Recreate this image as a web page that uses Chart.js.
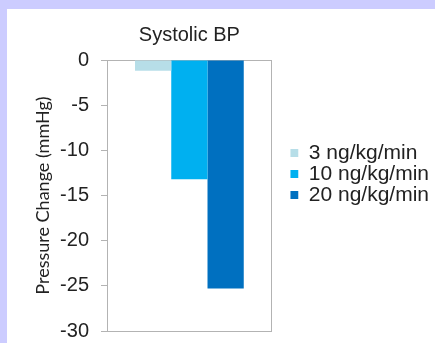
<!DOCTYPE html>
<html>
<head>
<meta charset="utf-8">
<script src="https://cdn.jsdelivr.net/npm/chart.js@4/dist/chart.umd.min.js"></script>
<style>
  html, body { margin: 0; padding: 0; background: #ccccff; width: 435px; height: 343px; overflow: hidden; }
  #wrap { position: absolute; left: 7px; top: 9px; width: 428px; height: 334px; background: #ffffff; }
  canvas { display: block; }
</style>
</head>
<body>
<div id="wrap"><canvas id="c" width="428" height="334"></canvas></div>
<script>
const chartTitle = 'Systolic BP';
const categories = ['Systolic BP'];
const seriesLabels = ['3 ng/kg/min', '10 ng/kg/min', '20 ng/kg/min'];
const values3 = [-1.2];
const values10 = [-13.2];
const values20 = [-25.3];
const seriesColors = ['#b7dee8', '#00b0f0', '#0070c0'];
const yAxisTitle = 'Pressure Change (mmHg)';
const yMin = -30, yMax = 0, yStep = 5;

const axisColor = '#b3b3b3';
const textColor = '#222222';

new Chart(document.getElementById('c'), {
  type: 'bar',
  data: {
    labels: categories,
    datasets: [
      { label: seriesLabels[0], data: values3, backgroundColor: seriesColors[0] },
      { label: seriesLabels[1], data: values10, backgroundColor: seriesColors[1] },
      { label: seriesLabels[2], data: values20, backgroundColor: seriesColors[2] }
    ]
  },
  options: {
    responsive: false,
    maintainAspectRatio: false,
    animation: false,
    devicePixelRatio: 1,
    datasets: { bar: { categoryPercentage: 0.66, barPercentage: 1.0, borderWidth: 0 } },
    layout: { padding: { left: 0, right: -4, top: 0, bottom: 4 } },
    plugins: {
      tooltip: { enabled: false },
      title: {
        display: true,
        text: chartTitle,
        fullSize: false,
        color: textColor,
        font: { family: 'Liberation Sans', size: 20, weight: 'normal' },
        padding: { top: 14.4, bottom: 12.6 }
      },
      legend: {
        display: true,
        position: 'right',
        align: 'center',
        maxWidth: 160,
        labels: {
          boxWidth: 8,
          boxHeight: 8,
          padding: 0,
          color: textColor,
          font: { family: 'Liberation Sans', size: 21 }
        }
      }
    },
    scales: {
      x: {
        position: 'bottom',
        grid: { display: false },
        ticks: { display: false },
        border: { display: true, color: axisColor, width: 1 },
        afterFit: s => { s.height = 8; }
      },
      xTop: {
        type: 'category',
        position: 'top',
        grid: { display: false },
        ticks: { display: false },
        border: { display: true, color: axisColor, width: 1 },
        afterFit: s => { s.height = 0; }
      },
      y: {
        position: 'left',
        min: yMin,
        max: yMax,
        afterFit: s => { s.width = 100; s.paddingTop = 0; s.paddingBottom = 0; },
        ticks: {
          stepSize: yStep,
          padding: 12,
          color: textColor,
          font: { family: 'Liberation Sans', size: 20 }
        },
        grid: { display: true, drawOnChartArea: false, drawTicks: true, tickLength: 6, color: axisColor },
        border: { display: true, color: axisColor, width: 1 },
        title: {
          display: true,
          text: yAxisTitle,
          color: textColor,
          font: { family: 'Lato', size: 18 },
          padding: { top: 25.7, bottom: 7.8 }
        }
      },
      yRight: {
        type: 'linear',
        position: 'right',
        grid: { display: false },
        ticks: { display: false },
        border: { display: true, color: axisColor, width: 1 },
        afterFit: s => { s.width = 18.5; }
      }
    }
  }
});
</script>
</body>
</html>
